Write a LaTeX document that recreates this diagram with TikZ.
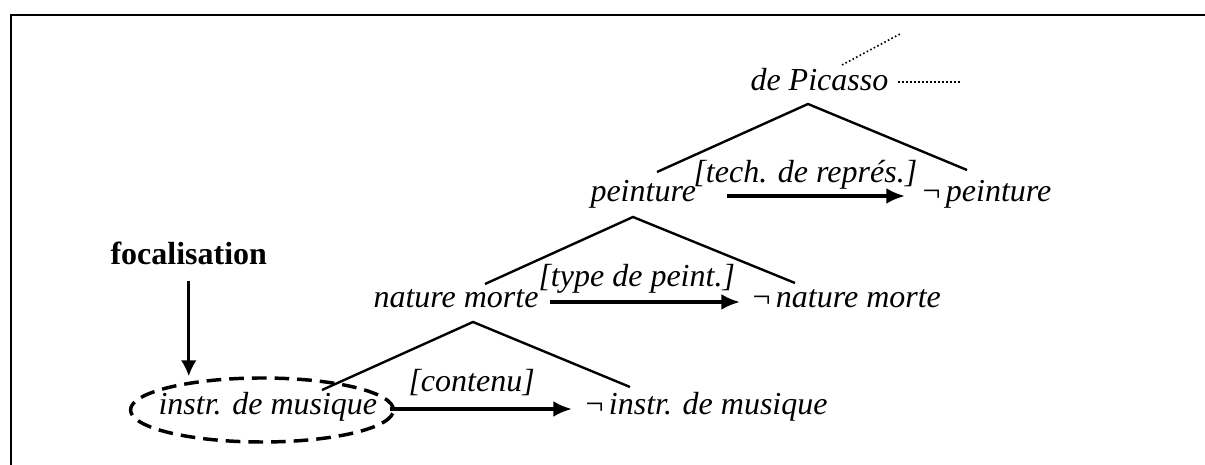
\documentclass[tikz,border=0pt]{standalone}
\usepackage{fontspec}
\setmainfont{Liberation Serif}
\usetikzlibrary{arrows.meta,shapes.geometric}

\begin{document}
\begin{tikzpicture}[x=0.375pt, y=-0.375pt,
	every node/.style={inner sep=0pt, font=\fontsize{12}{14}\selectfont\itshape},
	cls/.style={anchor=base west, text height=7.5pt, text depth=3pt},
	crit/.style={anchor=base west},
	branch/.style={line width=0.9pt},
	cut/.style={line width=0.6pt, dash pattern=on 0.6pt off 0.9pt},
	trans/.style={line width=1.3pt, -{Latex[length=7pt,width=6pt]}},
	focusring/.style={ellipse, draw, line width=1.3pt, dash pattern=on 5.5pt off 3pt,
		minimum width=98.6pt, minimum height=24pt}]
	\useasboundingbox (0,0) rectangle (1205,465);
	\draw[line width=0.9pt] (11,465) |- (1205,15);

	% nodes of the tree
	\node[cls] (picasso) at (750,91) {de Picasso};
	\node[cls] (peint)   at (590,202) {peinture};
	\node[cls] (npeint)  at (922,202) {{\upshape ¬}\,peinture};
	\node[cls] (nat)     at (373,308) {nature morte};
	\node[cls] (nnat)    at (752,308) {{\upshape ¬}\,nature morte};
	\node[cls] (instr)   at (158,415) {instr. de musique};
	\node[cls] (ninstr)  at (585,415) {{\upshape ¬}\,instr. de musique};

	% criteria
	\node[crit] (tech)    at (693,183) {[tech. de repr\'es.]};
	\node[crit] (typ)     at (538,287) {[type de peint.]};
	\node[crit] (contenu) at (408,392) {[contenu]};

	% branches
	\coordinate (a1) at (808,104);
	\coordinate (l1) at (657,172);
	\coordinate (r1) at (967,170);
	\coordinate (a2) at (633,217);
	\coordinate (l2) at (485,284);
	\coordinate (r2) at (795,283);
	\coordinate (a3) at (473,322);
	\coordinate (l3) at (322,390);
	\coordinate (r3) at (630,387);
	\draw[branch] (l1) -- (a1) -- (r1);
	\draw[branch] (l2) -- (a2) -- (r2);
	\draw[branch] (l3) -- (a3) -- (r3);

	% rest of the tree, cut off
	\coordinate (d1) at (842,65);
	\coordinate (d2) at (900,34);
	\coordinate (d3) at (898,82);
	\coordinate (d4) at (960,82);
	\draw[cut] (d1) -- (d2);
	\draw[cut] (d3) -- (d4);

	% transitions
	\draw[trans, shorten <=11.25pt, shorten >=6.4pt] (peint) -- (npeint);
	\draw[trans, shorten <=4.1pt, shorten >=4.5pt] (nat) -- (nnat);
	\draw[trans, shorten <=4.5pt, shorten >=4.9pt] (instr) -- (ninstr);

	% focus
	\node[focusring] (ring) at (262,410) {};
	\node[anchor=base west, font=\fontsize{12}{14}\selectfont\bfseries] (focal) at (110,265) {focalisation};
	\draw[line width=1.1pt, -{Latex[length=6pt,width=6pt]}, shorten <=5.6pt]
		(focal) -- (focal |- ring.north);
\end{tikzpicture}
\end{document}
